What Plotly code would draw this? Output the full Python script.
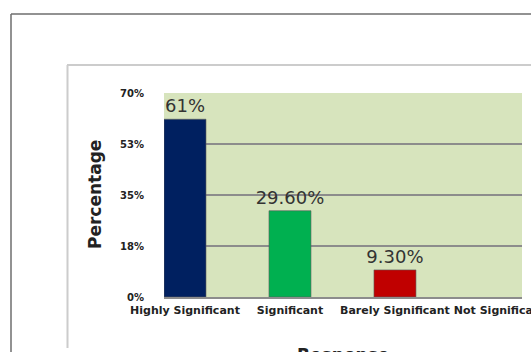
import plotly.graph_objects as go

categories = ["Highly Significant", "Significant", "Barely Significant", "Not Significant"]
values = [61, 29.6, 9.3, 0]
value_labels = ["61%", "29.60%", "9.30%", ""]
bar_colors = ["#002060", "#00b050", "#c00000", "#7f7f7f"]
bar_line_widths = [0.6, 0.6, 0.6, 0]
y_tickvals = [0, 17.5, 35, 52.5, 70]
y_ticktext = ["0%", "18%", "35%", "53%", "70%"]

W, H = 531, 352

def px(x):
    return x / W

def py(y):
    return 1 - y / H

fig = go.Figure()
fig.add_trace(go.Bar(
    x=list(range(len(categories))),
    y=values,
    text=value_labels,
    textposition="outside",
    constraintext="none",
    textfont=dict(family="DejaVu Sans", size=18, color="#333333"),
    marker=dict(color=bar_colors, line=dict(color="#5a5a5a", width=bar_line_widths)),
    width=0.4,
    cliponaxis=False,
    hoverinfo="skip",
))

fig.update_layout(
    width=W, height=H,
    autosize=False,
    margin=dict(l=0, r=0, t=0, b=0, pad=0, autoexpand=False),
    paper_bgcolor="white",
    plot_bgcolor="#d7e4bd",
    showlegend=False,
    xaxis=dict(
        domain=[px(164), px(522)],
        range=[-0.2, 3.21],
        tickvals=list(range(len(categories))),
        ticktext=categories,
        tickangle=0,
        automargin=False,
        ticklabeloverflow="allow",
        tickfont=dict(family="DejaVu Sans", size=11, color="#222222", weight="bold"),
        showgrid=False,
        zeroline=False,
        showline=True, linecolor="#8c8c8c", linewidth=1.5,
        ticks="",
        ticklabelstandoff=2,
    ),
    yaxis=dict(
        domain=[py(297), py(93)],
        range=[0, 70],
        tickvals=y_tickvals,
        ticktext=y_ticktext,
        automargin=False,
        tickfont=dict(family="DejaVu Sans", size=10, color="#222222", weight="bold"),
        showgrid=True, gridcolor="#8c8c8c", gridwidth=1.5,
        zeroline=False,
        showline=False,
        ticks="",
        ticklabelstandoff=19,
    ),
    shapes=[
        dict(type="line", xref="paper", yref="paper", x0=px(11), x1=px(540), y0=py(14), y1=py(14),
             line=dict(color="#6e6e6e", width=1.5)),
        dict(type="line", xref="paper", yref="paper", x0=px(11), x1=px(11), y0=py(14), y1=py(360),
             line=dict(color="#6e6e6e", width=1.5)),
        dict(type="line", xref="paper", yref="paper", x0=px(67), x1=px(540), y0=py(65), y1=py(65),
             line=dict(color="#cccccc", width=2)),
        dict(type="line", xref="paper", yref="paper", x0=px(67.5), x1=px(67.5), y0=py(65), y1=py(348),
             line=dict(color="#cccccc", width=2)),
    ],
    annotations=[
        dict(text="Percentage", xref="paper", yref="paper", x=px(95), y=py(195),
             xanchor="center", yanchor="middle", textangle=-90, showarrow=False,
             font=dict(family="DejaVu Sans", size=17, color="#222222", weight="bold")),
        dict(text="Response", xref="paper", yref="paper", x=px(343), y=py(343),
             xanchor="center", yanchor="top", showarrow=False,
             font=dict(family="DejaVu Sans", size=17, color="#222222", weight="bold")),
    ],
)

fig.write_html("out.html")
